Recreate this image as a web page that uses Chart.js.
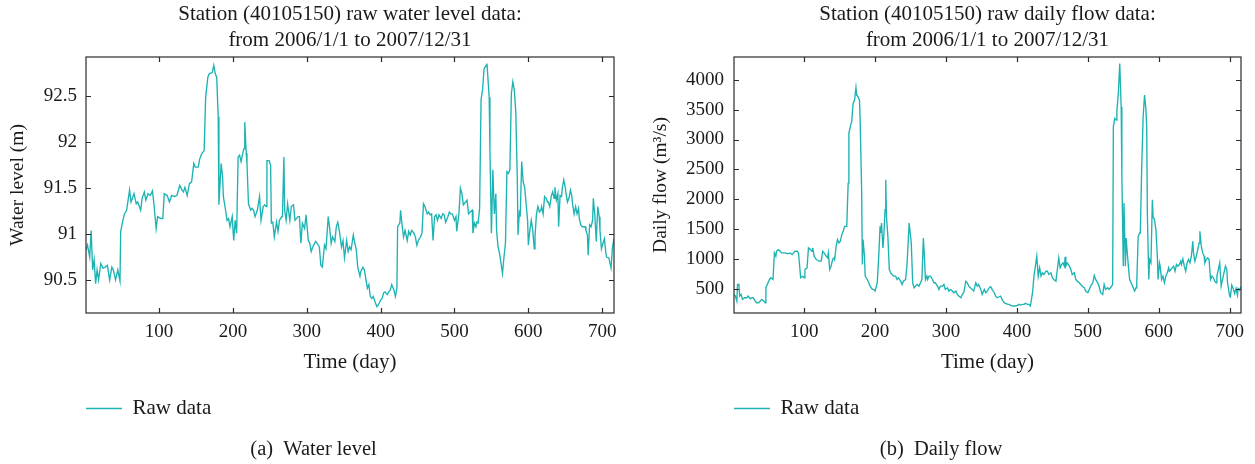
<!DOCTYPE html>
<html>
<head>
<meta charset="utf-8">
<title>Station 40105150 raw data</title>
<script src="https://cdn.jsdelivr.net/npm/chart.js@4.4.0/dist/chart.umd.min.js"></script>
<style>
    body { margin: 0; background: #fff; overflow: hidden; }
    .wrap { position: relative; width: 1255px; height: 464px; }
    canvas { position: absolute; top: 0; }
    #chartLevel { left: 0; }
    #chartFlow { left: 627px; }
</style>
</head>
<body>
<div class="wrap">
    <canvas id="chartLevel" width="627" height="464"></canvas>
    <canvas id="chartFlow" width="628" height="464"></canvas>
</div>
<script>
// water level (m)
const levelDays = [1,3,6,8,10,12,14,16,18,21,24,27,30,33,36,38,41,44,47,48,51,53,56,60,62,66,69,71,75,77,80,82,85,88,91,93,96,98,102,105,107,111,114,117,121,124,128,131,133,135,138,141,144,147,149,153,155,158,161,163,166,168,172,174,176,178,180,181,184,186,187,190,192,194,196,199,201,203,205,207,209,211,214,215,216,218,219,221,224,226,228,230,233,236,238,241,243,245,246,249,251,252,254,256,259,261,263,266,267,269,270,272,274,277,279,282,284,288,290,292,294,297,299,302,304,306,308,312,314,317,319,321,324,326,329,331,333,335,338,340,342,344,347,349,351,354,356,358,360,363,365,367,369,372,373,376,378,381,382,384,386,388,390,393,395,397,400,402,404,406,409,411,413,415,418,420,422,423,426,427,429,431,433,436,438,440,442,445,447,449,451,454,456,458,460,463,465,467,469,471,473,475,477,479,482,484,486,488,491,493,495,497,500,502,503,506,508,510,512,515,517,519,521,524,525,527,529,530,532,534,536,538,540,543,544,547,548,550,552,553,554,556,557,559,561,563,565,567,569,571,573,575,577,579,581,583,585,586,588,589,591,593,595,597,599,600,602,604,606,608,609,611,613,615,617,618,620,622,624,626,627,629,631,633,635,636,638,640,641,643,645,646,648,650,651,653,655,657,659,660,662,664,666,668,669,671,673,675,677,678,680,681,683,685,687,688,690,692,694,696,697,699,701,703,705,706,709,712,714,716];
const levelValues = [90.83,90.88,90.75,91.04,90.61,90.72,90.46,90.61,90.50,90.68,90.63,90.64,90.66,90.50,90.64,90.61,90.50,90.61,90.49,91.03,91.15,91.22,91.26,91.48,91.35,91.44,91.33,91.35,91.26,91.39,91.46,91.37,91.44,91.42,91.47,91.33,91.06,91.19,91.17,91.17,91.44,91.42,91.35,91.42,91.41,91.42,91.53,91.48,91.46,91.51,91.42,91.55,91.57,91.77,91.73,91.73,91.82,91.88,91.91,92.49,92.71,92.75,92.76,92.84,92.75,92.71,92.28,91.32,91.77,91.62,91.41,91.26,91.15,91.17,91.08,91.19,90.93,91.15,91.01,91.84,91.86,91.79,91.91,91.93,92.22,91.88,91.77,91.33,91.26,91.28,91.26,91.19,91.26,91.41,91.15,91.30,91.32,91.30,91.80,91.80,91.75,91.12,91.13,90.97,91.13,91.03,91.15,91.19,91.19,91.84,91.26,91.15,91.33,91.15,91.30,91.32,91.15,91.19,91.19,90.90,91.12,91.06,91.21,90.93,90.90,90.81,90.86,90.92,90.90,90.86,90.66,90.64,90.88,90.84,91.19,91.06,90.90,90.97,90.92,91.08,91.13,91.04,90.86,90.93,90.74,90.93,90.81,90.86,90.83,90.99,90.90,90.83,90.64,90.54,90.59,90.64,90.61,90.46,90.41,90.45,90.32,90.30,90.32,90.25,90.21,90.23,90.28,90.30,90.36,90.37,90.34,90.37,90.39,90.45,90.39,90.32,90.41,91.08,91.12,91.26,91.10,90.97,91.04,90.93,91.03,90.99,91.04,91.01,90.97,90.88,90.93,90.97,91.01,91.33,91.30,91.22,91.24,91.21,91.22,90.93,91.19,91.21,91.15,91.21,91.17,91.22,91.21,91.13,91.19,91.24,91.22,91.22,91.15,91.19,91.03,91.22,91.50,91.44,91.32,91.35,91.37,91.22,91.24,91.26,91.01,91.12,91.08,91.13,91.12,91.28,92.47,92.57,92.80,92.84,92.86,92.49,91.91,91.01,91.70,91.44,91.22,91.44,91.04,90.86,90.79,90.68,90.57,90.75,90.90,91.68,91.66,91.70,92.53,92.66,92.57,92.33,91.62,90.99,91.26,91.19,91.79,91.57,91.51,91.33,91.15,90.88,91.04,91.15,91.04,90.84,90.97,91.22,91.30,91.24,91.26,91.30,91.22,91.41,91.39,91.35,91.35,91.30,91.41,91.46,91.39,91.51,91.37,91.44,91.08,91.42,91.41,91.50,91.59,91.51,91.44,91.35,91.39,91.48,91.41,91.32,91.22,91.30,91.22,91.28,91.17,91.10,91.08,91.08,91.08,91.04,90.99,90.77,91.10,91.08,91.15,91.39,91.21,90.92,91.30,91.19,91.04,90.84,90.90,90.95,90.79,90.75,90.74,90.63,90.86,90.95];

// daily flow (m3/s)
const flowDays = [1,3,5,6,8,9,11,13,16,19,21,24,26,28,31,33,36,38,40,43,45,46,49,51,53,56,58,60,61,64,66,68,71,73,76,78,80,83,85,87,90,92,93,95,98,100,101,104,106,109,111,112,114,117,119,121,124,126,128,131,133,134,136,138,140,142,143,145,147,149,151,153,155,157,158,160,162,163,165,167,169,171,173,174,176,178,179,181,182,183,185,186,189,191,193,196,198,200,203,205,207,208,209,211,212,214,215,216,218,220,222,224,226,229,231,233,236,238,240,243,245,248,249,251,253,255,257,259,262,264,266,268,269,271,273,274,276,278,281,283,285,288,290,292,295,297,299,302,304,306,309,311,314,316,318,321,323,325,328,330,332,337,339,342,344,346,349,351,354,356,358,361,363,365,368,370,372,375,377,379,382,384,387,389,391,394,396,398,401,403,405,408,410,412,415,417,419,422,424,426,428,430,432,434,436,438,441,443,445,448,450,452,455,457,459,461,463,465,467,468,469,471,474,476,478,481,483,485,488,490,493,495,497,500,502,504,507,509,511,514,516,518,521,523,525,528,530,533,535,536,538,540,541,543,545,547,548,550,551,553,554,556,558,559,561,563,566,568,569,571,573,574,576,578,580,582,583,584,586,587,589,591,592,594,596,598,599,601,602,604,606,608,610,612,614,615,617,619,621,623,625,627,629,631,632,634,636,638,640,642,644,646,648,649,651,653,655,657,658,660,662,664,665,667,669,671,673,675,677,679,681,682,684,686,688,690,692,694,696,697,700,701,703,705,707,709,711,712,714,716];
const flowValues = [417,389,306,583,583,389,417,334,361,361,389,345,361,361,306,278,278,306,334,306,278,528,611,666,694,666,1109,1054,1137,1164,1137,1109,1109,1109,1098,1098,1109,1081,1109,1137,1137,1109,971,694,722,694,832,860,1192,1164,1137,1192,1054,998,987,971,971,1137,1109,1054,1026,1109,832,888,998,1026,998,1220,1331,1275,1303,1414,1469,1552,1552,1552,2272,3103,3214,3297,3601,3657,3867,3740,3712,3657,3269,2161,915,1331,1054,722,666,611,555,500,500,472,611,1026,1552,1441,1608,1192,1331,1829,2328,1718,1386,832,777,749,722,722,666,694,638,583,638,666,915,1608,1608,1275,611,528,555,583,555,611,666,1358,1164,666,722,666,722,722,666,611,611,555,500,555,555,583,500,528,472,500,472,445,472,417,389,361,417,445,638,611,555,500,472,611,555,583,500,417,500,445,472,528,544,500,445,389,361,378,389,334,278,268,251,251,234,223,223,223,234,251,240,251,251,268,251,251,223,445,722,888,1054,722,860,722,777,749,804,804,749,777,694,666,638,832,1026,860,915,943,888,1043,888,943,888,832,749,777,666,638,611,583,544,528,472,445,500,555,611,733,666,611,544,445,417,583,500,528,500,544,583,3214,3352,3324,3490,3767,4266,3546,2383,888,1940,888,1358,1054,777,666,611,555,472,528,611,1386,1441,1441,2549,3380,3740,3490,3214,1718,666,998,943,1995,1718,1663,1497,1054,666,943,888,666,722,611,722,777,860,804,832,860,888,804,915,888,915,971,915,1010,888,804,943,998,943,1054,1303,1109,971,1054,1164,1275,1469,1220,1109,1054,943,998,1026,998,666,722,694,638,611,722,832,943,555,666,777,888,832,611,389,378,572,516,433,516,405,516,489,544];

const dayTicks = [100, 200, 300, 400, 500, 600, 700];
const levelTicks = [90.5, 91, 91.5, 92, 92.5];
const flowTicks = [500, 1000, 1500, 2000, 2500, 3000, 3500, 4000];

const LINE_COLOR = '#1db3b3';
const TEXT_COLOR = '#1a1a1a';

Chart.defaults.font.family = '"Liberation Serif", "Times New Roman", serif';
Chart.defaults.color = TEXT_COLOR;

// frame round the plot, with short inward ticks on all four sides
const framePlugin = {
    id: 'frame',
    afterDraw(chart) {
        const { ctx, chartArea: a, scales: { x, y } } = chart;
        ctx.save();
        ctx.strokeStyle = '#2a2a2a';
        ctx.lineWidth = 1.2;
        ctx.strokeRect(a.left, a.top, a.right - a.left, a.bottom - a.top);
        ctx.beginPath();
        x.ticks.forEach(t => {
            const px = Math.round(x.getPixelForValue(t.value)) + 0.5;
            ctx.moveTo(px, a.bottom); ctx.lineTo(px, a.bottom - 5);
            ctx.moveTo(px, a.top); ctx.lineTo(px, a.top + 5);
        });
        y.ticks.forEach(t => {
            const py = Math.round(y.getPixelForValue(t.value)) + 0.5;
            ctx.moveTo(a.left, py); ctx.lineTo(a.left + 5, py);
            ctx.moveTo(a.right, py); ctx.lineTo(a.right - 5, py);
        });
        ctx.stroke();
        ctx.restore();
    }
};

function makeChart(id, cfg) {
    const points = cfg.days.map((d, i) => ({ x: d, y: cfg.values[i] }));
    return new Chart(document.getElementById(id), {
        type: 'line',
        data: {
            datasets: [{
                label: 'Raw data',
                data: points,
                borderColor: LINE_COLOR,
                backgroundColor: LINE_COLOR,
                borderWidth: 1.35,
                pointRadius: 0,
                tension: 0,
                fill: false
            }]
        },
        options: {
            responsive: false,
            animation: false,
            layout: { padding: 0 },
            plugins: {
                title: {
                    display: true,
                    text: cfg.title,
                    fullSize: false,
                    font: { size: 21, weight: 'normal', lineHeight: '26px' },
                    padding: { top: 1, bottom: 4 },
                    color: TEXT_COLOR
                },
                subtitle: {
                    display: true,
                    position: 'bottom',
                    text: cfg.caption,
                    font: { size: 20.5, lineHeight: '24px' },
                    padding: { top: 9, bottom: 2 },
                    color: TEXT_COLOR
                },
                legend: {
                    position: 'bottom',
                    align: 'start',
                    fullSize: false,
                    labels: {
                        usePointStyle: true,
                        pointStyle: 'line',
                        pointStyleWidth: 36,
                        padding: 0,
                        font: { size: 21 },
                        color: TEXT_COLOR
                    }
                },
                tooltip: { enabled: false }
            },
            scales: {
                x: {
                    type: 'linear',
                    min: 1,
                    max: 716,
                    afterBuildTicks: s => { s.ticks = dayTicks.map(v => ({ value: v })); },
                    afterFit: s => { s.height = 85; },
                    grid: { display: false, drawTicks: false },
                    border: { display: false },
                    ticks: { font: { size: 19 }, padding: 8, maxRotation: 0, autoSkip: false },
                    title: {
                        display: true,
                        text: 'Time (day)',
                        font: { size: 21, lineHeight: '24px' },
                        padding: { top: 0, bottom: 24 }
                    }
                },
                y: {
                    type: 'linear',
                    min: cfg.yMin,
                    max: cfg.yMax,
                    afterBuildTicks: s => { s.ticks = cfg.yTicks.map(v => ({ value: v })); },
                    afterFit: s => { s.width = cfg.yWidth; },
                    grid: { display: false, drawTicks: false },
                    border: { display: false },
                    ticks: { font: { size: 19 }, padding: cfg.tickPad, autoSkip: false, callback: v => String(v) },
                    title: {
                        display: true,
                        text: cfg.yTitle,
                        font: { size: 19.5, lineHeight: '24px' },
                        padding: { top: cfg.titlePad, bottom: 0 }
                    }
                },
                // empty strip that keeps the plot clear of the right edge
                edge: {
                    type: 'linear',
                    position: 'right',
                    afterFit: s => { s.width = cfg.padRight; },
                    grid: { display: false, drawTicks: false },
                    border: { display: false },
                    ticks: { display: false }
                }
            }
        },
        plugins: [framePlugin]
    });
}

makeChart('chartLevel', {
    days: levelDays,
    values: levelValues,
    title: ['Station (40105150) raw water level data:', 'from 2006/1/1 to 2007/12/31'],
    caption: '(a)  Water level',
    yTitle: 'Water level (m)',
    yMin: 90.14,
    yMax: 92.93,
    yTicks: levelTicks,
    yWidth: 86,
    tickPad: 9,
    titlePad: 6,
    padRight: 13
});

makeChart('chartFlow', {
    days: flowDays,
    values: flowValues,
    title: ['Station (40105150) raw daily flow data:', 'from 2006/1/1 to 2007/12/31'],
    caption: '(b)  Daily flow',
    yTitle: 'Daily flow (m\u00b3/s)',
    yMin: 107,
    yMax: 4376,
    yTicks: flowTicks,
    yWidth: 107,
    tickPad: 10,
    titlePad: 22,
    padRight: 14
});
</script>
</body>
</html>
